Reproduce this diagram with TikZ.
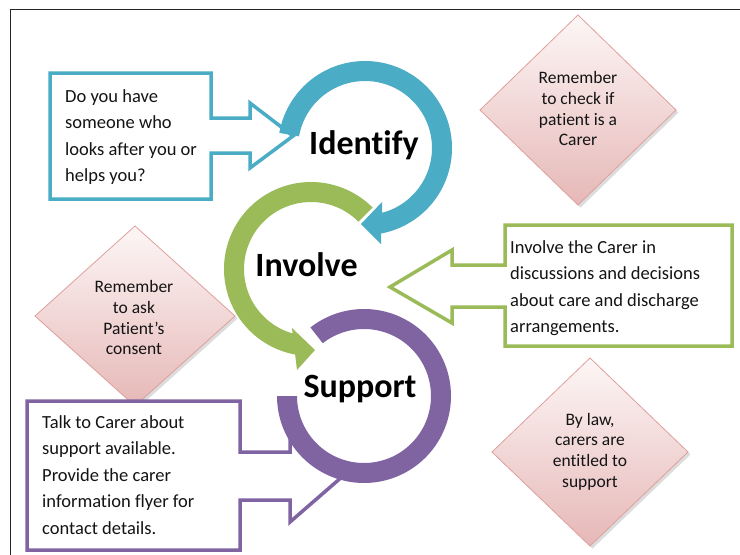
\documentclass[tikz,border=0pt]{standalone}
\usepackage{fontspec}
\setmainfont{Carlito}[Ligatures=NoCommon]
\definecolor{cblue}{RGB}{75,172,198}
\definecolor{cgreen}{RGB}{155,187,89}
\definecolor{cpurple}{RGB}{128,100,162}
\definecolor{dborder}{RGB}{222,160,158}
\definecolor{dtop}{RGB}{253,246,246}
\definecolor{dbot}{RGB}{230,184,183}
\definecolor{txt}{RGB}{20,20,20}
\begin{document}
\begin{tikzpicture}[x=1pt,y=-1pt,
  callout/.style={line width=3.5pt, fill=white, line join=miter},
  body/.style={font=\fontsize{18.5}{26.5}\selectfont, text=txt, align=left, anchor=north west, inner sep=0pt},
  dtext/.style={font=\fontsize{17.5}{20.8}\selectfont, text=txt, align=center, anchor=north, inner sep=0pt},
  headtext/.style={font=\bfseries\fontsize{34}{40}\selectfont, text=black, anchor=base, inner sep=0pt},
  diam/.style={draw=dborder, line width=0.8pt, top color=dtop, bottom color=dbot},
  dshadow/.style={fill=black!45, opacity=0.3}]

\useasboundingbox (0,0) rectangle (740,555);
\fill[white] (0,0) rectangle (740,555);

% frame
\draw[line width=1.5pt, black!85] (740,9.5) -- (10.5,9.5) -- (10.5,555);

% diamonds
\fill[dshadow] (580.5,17.5) -- (678.5,112.5) -- (580.5,207.5) -- (482.5,112.5) -- cycle;
\path[diam] (578,15) -- (676,110) -- (578,205) -- (480,110) -- cycle;
\fill[dshadow] (137.5,228.5) -- (237.5,318.5) -- (137.5,408.5) -- (37.5,318.5) -- cycle;
\path[diam] (135,226) -- (235,316) -- (135,406) -- (35,316) -- cycle;
\fill[dshadow] (592.5,360.5) -- (690.5,454.5) -- (592.5,548.5) -- (494.5,454.5) -- cycle;
\path[diam] (590,358) -- (688,452) -- (590,546) -- (492,452) -- cycle;

% callouts
\draw[callout, draw=cblue] (50,73) -- (211,73) -- (211,118) -- (250,118) -- (250,103) -- (293,136)
  -- (250,168) -- (250,153) -- (211,153) -- (211,199) -- (50,199) -- cycle;
\draw[callout, draw=cgreen] (505,225) -- (732,225) -- (732,346) -- (505,346) -- (505,307) -- (452,307)
  -- (452,323) -- (390,287) -- (452,250) -- (452,265) -- (505,265) -- cycle;
\draw[callout, draw=cpurple] (27,401) -- (240,401) -- (240,452) -- (290,452) -- (290,438) -- (343,476)
  -- (290,522) -- (290,500) -- (240,500) -- (240,550) -- (27,550) -- cycle;

% blue ring
\fill[cblue] plot[domain=190:439.4,samples=120] ({365+87*cos(\x)},{148+87*sin(\x)})
  -- (381,244) -- (361,224) -- (382,202)
  -- plot[domain=435.3:190,samples=120] ({365+67*cos(\x)},{148+67*sin(\x)}) -- cycle;
% green ring
\fill[cgreen] plot[domain=315:100.5,samples=120] ({311+87*cos(\x)},{269+87*sin(\x)})
  -- (297,370) -- (315,350) -- (292,328)
  -- plot[domain=105.9:315,samples=120] ({311+67*cos(\x)},{269+67*sin(\x)}) -- cycle;
% purple ring
\fill[cpurple] plot[domain=232:540,samples=140] ({364+87*cos(\x)},{396+87*sin(\x)})
  -- plot[domain=540:232,samples=140] ({364+67*cos(\x)},{396+67*sin(\x)}) -- cycle;

% headings
\node[headtext] (identify) at (364,154.3) {Identify};
\node[headtext] (involve) at (306.5,276) {Involve};
\node[headtext] (support) at (360,397) {Support};

% callout texts
\node[body] (qtext) at (65,83.45) {\strut Do you have\\someone who\\looks after you or\\helps you?};
\node[body] (itext) at (510,234.45) {\strut Involve the Carer in\\discussions and decisions\\about care and discharge\\arrangements.};
\node[body] (stext) at (42,409.45) {\strut Talk to Carer about\\support available.\\Provide the carer\\information flyer for\\contact details.};

% diamond texts
\node[dtext] (d1) at (578,68.7) {\strut Remember\\to check if\\patient is a\\Carer};
\node[dtext] (d2) at (134,277.7) {\strut Remember\\to ask\\Patient’s\\consent};
\node[dtext] (d3) at (590,410.4) {\strut By law,\\carers are\\entitled to\\support};
\end{tikzpicture}
\end{document}
